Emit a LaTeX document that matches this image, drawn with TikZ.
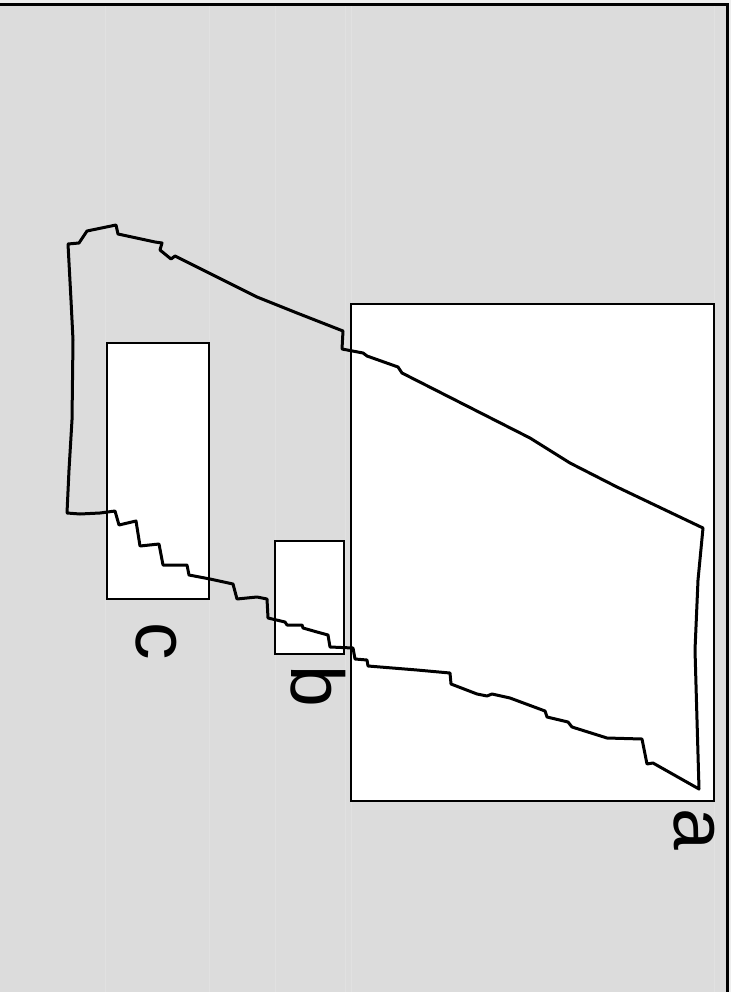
\documentclass[tikz,border=0pt]{standalone}
\usepackage{fontspec}
\setmainfont{Liberation Sans}
\definecolor{panelgray}{HTML}{DCDCDC}
\definecolor{outergray}{HTML}{EEEEEE}
\definecolor{seam}{HTML}{E1E1E1}
\tikzset{
  boxstyle/.style={draw=black, fill=white, line width=1.7pt},
  outline/.style={draw=black, line width=3pt, line join=round},
  seamline/.style={draw=seam, line width=0.7pt},
  lbl/.style={rotate=-90, inner sep=0pt, font=\fontsize{75}{75}\selectfont}
}
\begin{document}
\begin{tikzpicture}[x=1pt, y=-1pt]
\useasboundingbox (0,0) rectangle (731,992);
\fill[outergray] (0,0) rectangle (731,992);
\fill[panelgray] (0,5) rectangle (727.5,992);
% faint seams
\foreach \sx in {105,209,275,345,351,714} {
  \draw[seamline] (\sx,6) -- (\sx,992);
}
% boxes
\draw[boxstyle] (351,304) rectangle (714,801);
\draw[boxstyle] (275,541) rectangle (344,654);
\draw[boxstyle] (107,343) rectangle (209,599);
% outline polygon
\draw[outline] (67,513) -- (69,470) -- (72,420) -- (73,340) -- (71,300) -- (68,244)
  -- (79,243) -- (87,231) -- (116,225) -- (118,234) -- (155,242) -- (162,243)
  -- (160,250) -- (171,259) -- (175,256) -- (257,297) -- (297,313) -- (343,331)
  -- (342,349) -- (363,353) -- (367,356) -- (398,367) -- (402,373) -- (530,438)
  -- (570,463) -- (617,487) -- (703,528) -- (698,580) -- (695,650) -- (697,720)
  -- (699,789) -- (653,763) -- (647,764) -- (642,739) -- (607,738) -- (572,727)
  -- (568,722) -- (547,717) -- (545,711) -- (510,698) -- (492,694) -- (487,696)
  -- (477,694) -- (451,684) -- (450,673) -- (417,670) -- (368,666) -- (367,660)
  -- (355,659) -- (353,648) -- (330,647) -- (328,635) -- (317,632) -- (303,628)
  -- (302,625) -- (287,625) -- (285,622) -- (268,618) -- (267,599) -- (257,597)
  -- (237,599) -- (233,584) -- (210,579) -- (189,575) -- (187,565) -- (163,565)
  -- (159,544) -- (140,546) -- (136,521) -- (119,525) -- (115,511) -- (100,513)
  -- (80,514) -- cycle;
% labels
\node[lbl] (la) at (694.5,829.5) {a};
\node[lbl] (lb) at (318.5,686.5) {b};
\node[lbl] (lc) at (156,641) {c};
% frame (top and right)
\draw[line width=3pt, line cap=rect] (0,4.5) -- (727.5,4.5) -- (727.5,992);
\end{tikzpicture}
\end{document}
